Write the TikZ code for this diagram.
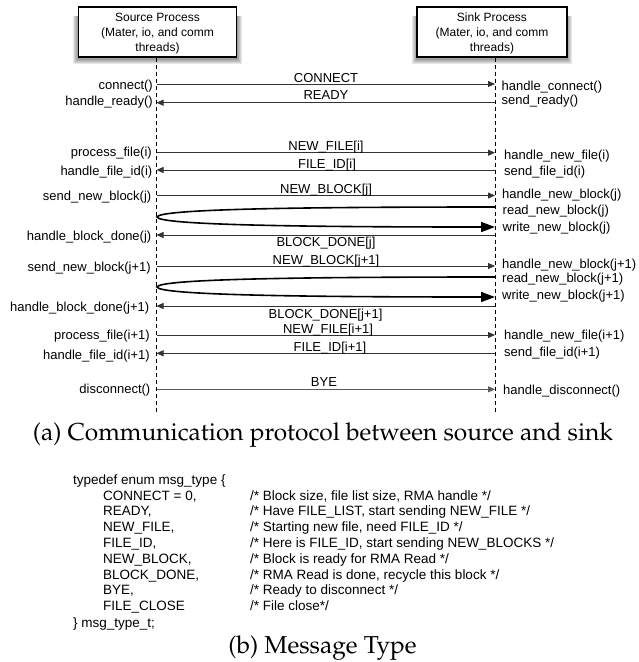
\documentclass[tikz,border=0pt]{standalone}
\usepackage[T1]{fontenc}
\usepackage{fontspec}
\setmainfont{Liberation Sans}
\usetikzlibrary{arrows.meta,backgrounds}
\newcommand{\palfont}{\fontencoding{T1}\fontfamily{ppl}\selectfont}
\begin{document}
\begin{tikzpicture}[x=1pt,y=-1pt,
  lbl/.style={font=\fontsize{13}{15}\selectfont, inner sep=0pt},
  code/.style={font=\fontsize{13.5}{16}\selectfont, inner sep=0pt, anchor=base west},
  captext/.style={font=\palfont\fontsize{24.5}{28}\selectfont, inner sep=0pt, anchor=base},
  procbox/.style={draw=black, line width=1.1pt, fill=white, align=center,
    font=\fontsize{12}{15}\selectfont, minimum height=50pt, inner sep=0pt},
  lifeline/.style={draw=black, line width=0.8pt, dash pattern=on 4pt off 3pt},
  msg/.style={draw=black!80, line width=0.8pt, -{Triangle[length=7pt,width=6pt]}},
  loopline/.style={draw=black, line width=1.6pt, -{Triangle[length=14pt,width=10pt]}},
  shadowfill/.style={fill=black, opacity=0.09}
]
\useasboundingbox (0,0) rectangle (639,662);

% process boxes
\node[procbox, minimum width=158pt, text depth=-3pt] (src) at (157.5,32) {Source Process\\(Mater, io, and comm\\threads)};
\node[procbox, minimum width=150pt, text depth=-3pt] (snk) at (492,32) {Sink Process\\(Mater, io, and comm\\threads)};
\begin{scope}[on background layer]
  \foreach \b in {src,snk}{
    \foreach \d in {0.5,1.5,2.5,3.5,4.5}{
      \fill[shadowfill] ([xshift=-\d pt,yshift=-\d pt-1.5pt]\b.south west) rectangle ([xshift=\d pt,yshift=-10pt]\b.north east);
    }
  }
\end{scope}

% lifelines
\coordinate (srcTop) at (156.5,57.5);
\coordinate (srcBot) at (156.5,413);
\coordinate (snkTop) at (495,57.5);
\coordinate (snkBot) at (495,413);
\draw[lifeline] (srcTop) -- (srcBot);
\draw[lifeline] (snkTop) -- (snkBot);

% message end points
\foreach \n/\y in {1/84,2/102.7,3/152.7,4/170,5/195.5,6/235,7/266,8/306,9/335,10/353.3,11/389.3}{
  \coordinate (s\n) at (156.5,\y);
  \coordinate (k\n) at (495,\y);
}
\draw[msg] (s1) -- (k1);
\draw[msg] (k2) -- (s2);
\draw[msg] (s3) -- (k3);
\draw[msg] (k4) -- (s4);
\draw[msg] (s5) -- (k5);
\draw[msg] (k6) -- (s6);
\draw[msg] (s7) -- (k7);
\draw[msg] (k8) -- (s8);
\draw[msg] (s9) -- (k9);
\draw[msg] (k10) -- (s10);
\draw[msg, draw=black!65] (s11) -- (k11);

% read/write loops
\coordinate (kt1) at (495,207);
\coordinate (tip1) at (157,217);
\coordinate (kb1) at (495,227);
\draw[loopline] (kt1) .. controls (300,207) and (159,209) .. (tip1)
  .. controls (159,225) and (300,227) .. (kb1);
\coordinate (kt2) at (495,277);
\coordinate (tip2) at (157,287);
\coordinate (kb2) at (495,297);
\draw[loopline] (kt2) .. controls (300,277) and (159,279) .. (tip2)
  .. controls (159,295) and (300,297) .. (kb2);

% message labels
\node[lbl, anchor=base] (m1) at (326,82.5) {CONNECT};
\node[lbl, anchor=base] (m2) at (326,99.5) {READY};
\node[lbl, anchor=base] (m3) at (326,150.7) {NEW\_FILE[i]};
\node[lbl, anchor=base] (m4) at (327,168.5) {FILE\_ID[i]};
\node[lbl, anchor=base] (m5) at (326,193.3) {NEW\_BLOCK[j]};
\node[lbl, anchor=base] (m6) at (326,246.5) {BLOCK\_DONE[j]};
\node[lbl, anchor=base] (m7) at (326,264.3) {NEW\_BLOCK[j+1]};
\node[lbl, anchor=base] (m8) at (325.5,318) {BLOCK\_DONE[j+1]};
\node[lbl, anchor=base] (m9) at (328,333.7) {NEW\_FILE[i+1]};
\node[lbl, anchor=base] (m10) at (330,351.5) {FILE\_ID[i+1]};
\node[lbl, anchor=base] (m11) at (324,386.7) {BYE};

% source side labels
\node[lbl, anchor=base east] (l1) at (153,89) {connect()};
\node[lbl, anchor=base east] (l2) at (153,105) {handle\_ready()};
\node[lbl, anchor=base east] (l3) at (152,156) {process\_file(i)};
\node[lbl, anchor=base east] (l4) at (152.5,175.5) {handle\_file\_id(i)};
\node[lbl, anchor=base east] (l5) at (151.5,200) {send\_new\_block(j)};
\node[lbl, anchor=base east] (l6) at (151.5,240) {handle\_block\_done(j)};
\node[lbl, anchor=base east] (l7) at (151,271) {send\_new\_block(j+1)};
\node[lbl, anchor=base east] (l8) at (149.5,311.5) {handle\_block\_done(j+1)};
\node[lbl, anchor=base east] (l9) at (150,339) {process\_file(i+1)};
\node[lbl, anchor=base east] (l10) at (150,359) {handle\_file\_id(i+1)};
\node[lbl, anchor=base east] (l11) at (150.5,393) {disconnect()};

% sink side labels
\node[lbl, anchor=base west] (r1) at (501.5,90) {handle\_connect()};
\node[lbl, anchor=base west] (r2) at (501.5,104.5) {send\_ready()};
\node[lbl, anchor=base west] (r3) at (504,159) {handle\_new\_file(i)};
\node[lbl, anchor=base west] (r4) at (504,175.5) {send\_file\_id(i)};
\node[lbl, anchor=base west] (r5) at (502,198.5) {handle\_new\_block(j)};
\node[lbl, anchor=base west] (r6) at (502.5,214.5) {read\_new\_block(j)};
\node[lbl, anchor=base west] (r7) at (502.5,231.5) {write\_new\_block(j)};
\node[lbl, anchor=base west] (r8) at (502,268.5) {handle\_new\_block(j+1)};
\node[lbl, anchor=base west] (r9) at (502,282.5) {read\_new\_block(j+1)};
\node[lbl, anchor=base west] (r10) at (502,299.5) {write\_new\_block(j+1)};
\node[lbl, anchor=base west] (r11) at (504,339.5) {handle\_new\_file(i+1)};
\node[lbl, anchor=base west] (r12) at (504,356) {send\_file\_id(i+1)};
\node[lbl, anchor=base west] (r13) at (503,394.5) {handle\_disconnect()};

% caption (a)
\node[captext] (capa) at (323,440) {(a) Communication protocol between source and sink};

% message type listing
\node[code] (c0) at (73,484) {typedef enum msg\_type \{};
\node[code] (c1) at (103,500) {CONNECT = 0,};
\node[code] (c2) at (103,515.8) {READY,};
\node[code] (c3) at (103,531.6) {NEW\_FILE,};
\node[code] (c4) at (103,547.4) {FILE\_ID,};
\node[code] (c5) at (103,563.2) {NEW\_BLOCK,};
\node[code] (c6) at (103,579) {BLOCK\_DONE,};
\node[code] (c7) at (103,594.8) {BYE,};
\node[code] (c8) at (103,610.6) {FILE\_CLOSE};
\node[code] (c9) at (73,627) {\} msg\_type\_t;};
\node[code] (d1) at (250,500) {/* Block size, file list size, RMA handle */};
\node[code] (d2) at (250,515.8) {/* Have FILE\_LIST, start sending NEW\_FILE */};
\node[code] (d3) at (250,531.6) {/* Starting new file, need FILE\_ID */};
\node[code] (d4) at (250,547.4) {/* Here is FILE\_ID, start sending NEW\_BLOCKS */};
\node[code] (d5) at (250,563.2) {/* Block is ready for RMA Read */};
\node[code] (d6) at (250,579) {/* RMA Read is done, recycle this block */};
\node[code] (d7) at (250,594.8) {/* Ready to disconnect */};
\node[code] (d8) at (250,610.6) {/* File close*/};

% caption (b)
\node[captext] (capb) at (322.5,653) {(b) Message Type};
\end{tikzpicture}
\end{document}
